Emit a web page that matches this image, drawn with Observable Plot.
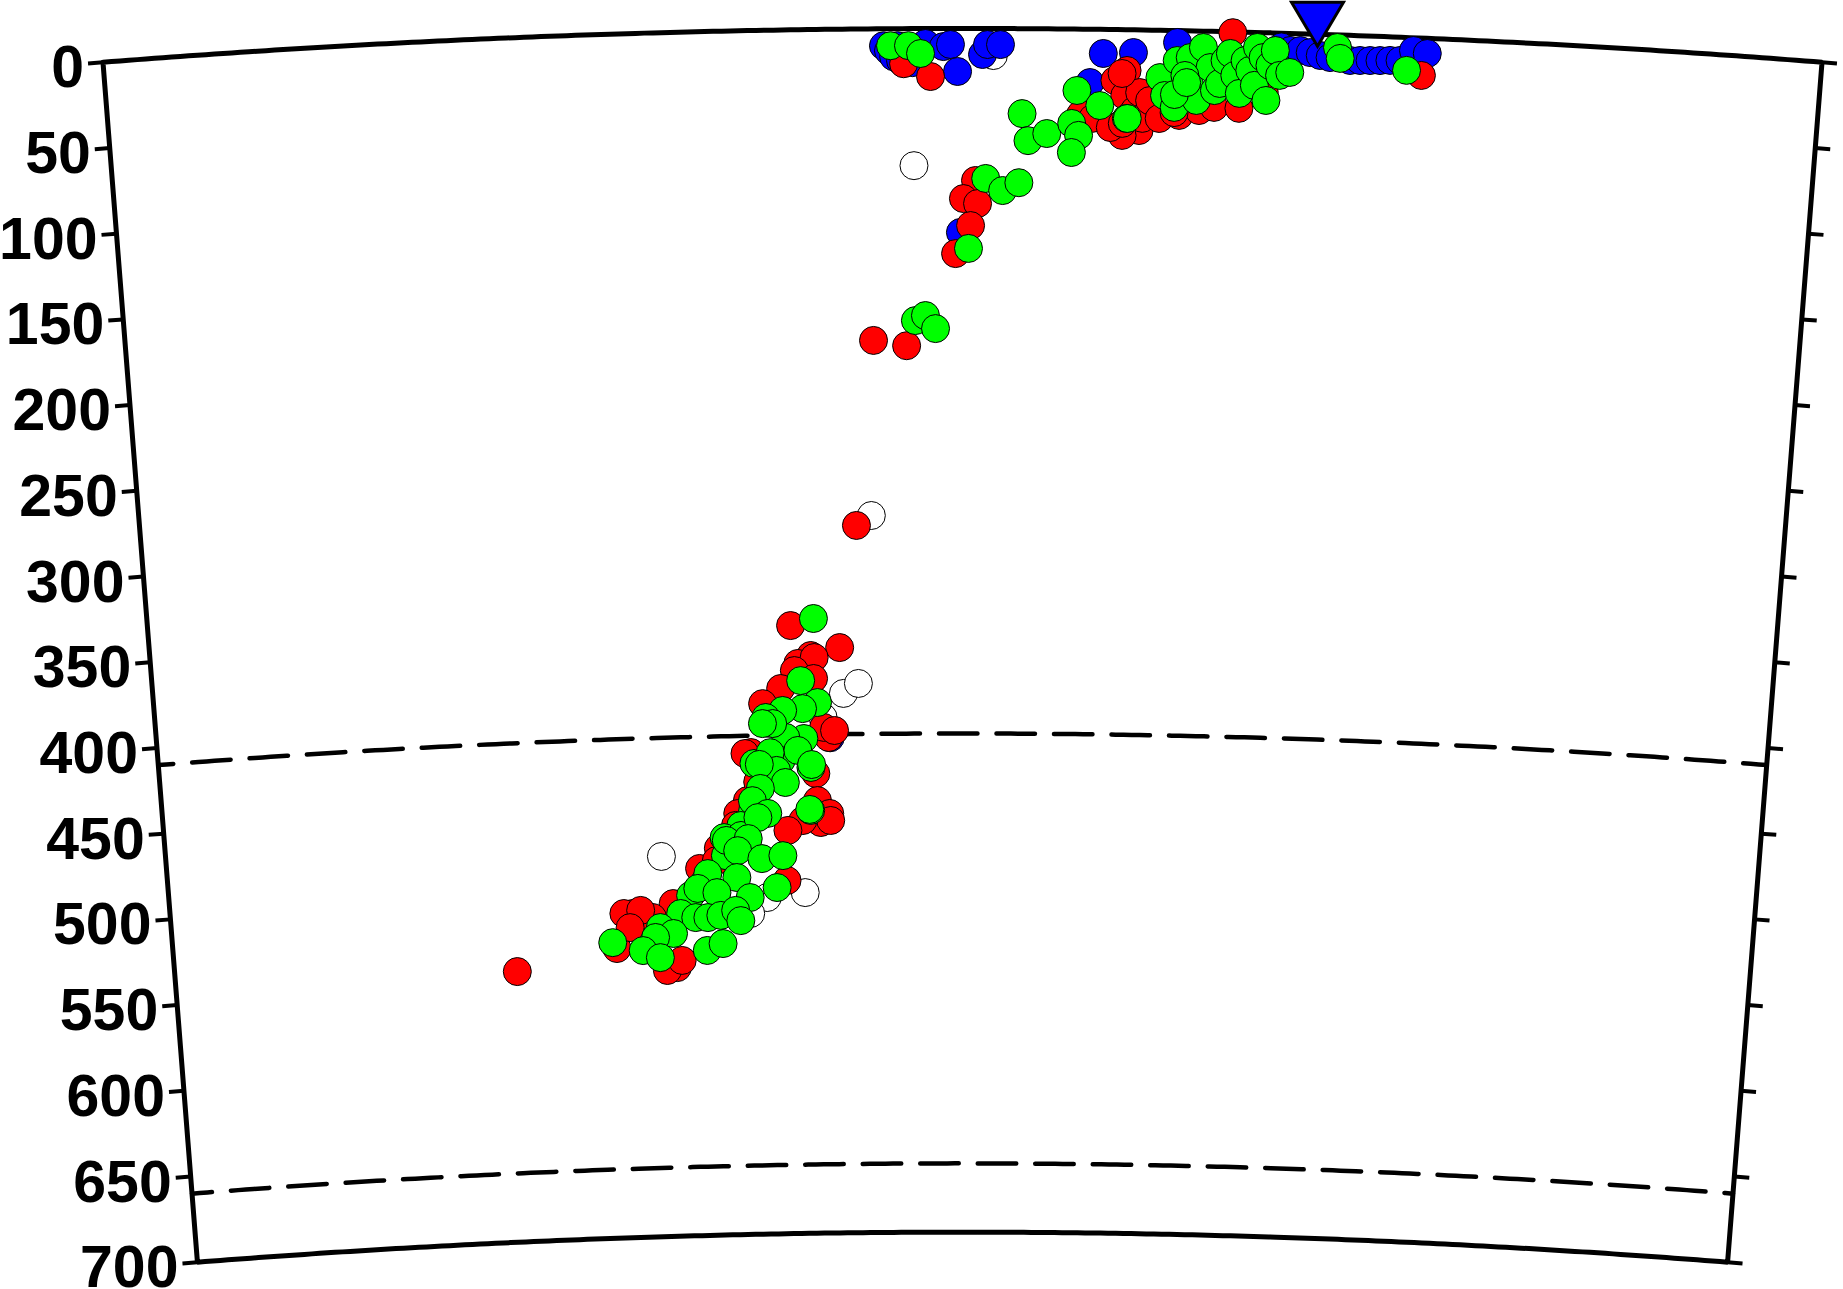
<!DOCTYPE html>
<html><head><meta charset="utf-8">
<script src="https://cdn.jsdelivr.net/npm/d3@7"></script>
<script src="https://cdn.jsdelivr.net/npm/@observablehq/plot@0.6"></script>
<style>html,body{margin:0;padding:0;background:#fff;} #chart svg{display:block;}</style>
</head><body>
<div id="chart"></div>
<script>
// ---- data: [distance along profile (deg), depth (km)] ----
const depthTicks = d3.range(0, 701, 50);
const discontinuities = [410, 660];
const station = [[6.357, 0]];

const blueEvents = [
[4.086,9.9],[4.112,12.8],[4.139,16.3],[4.175,18.6],[4.16,9.9],[4.306,8.7],[4.238,19.8],[4.40,10.5],
[4.437,9.3],[4.474,25.0],[4.605,15.1],[4.631,9.3],[4.699,9.3],[5.238,14.0],[5.396,13.2],[5.170,31.0],
[5.626,6.9],[6.17,8.0],[6.218,9.9],[6.270,9.8],[6.322,10.8],[6.375,12.3],[6.427,13.3],[6.532,14.6],
[6.584,14.4],[6.637,14.2],[6.689,14.0],[6.741,13.7],[6.794,13.5],[6.862,7.4],[6.935,8.8],[4.489,118.6],
[3.76,412]
];
const whiteEvents = [
[4.662,15.7],[4.243,79.7],[4.001,283.0],[3.837,386.3],[3.921,380.6],[3.722,400.1],
[2.797,478.9],[3.607,501.8],[3.391,504.3],[3.295,513.4]
];
const redEvents = [
[4.191,20.4],[4.332,27.9],
[5.301,29.6],[5.354,38.3],[5.406,46.9],[5.327,55.7],[5.432,58.5],[5.364,23.7],[5.432,36.4],[5.448,51.4],[5.343,61.5],
[5.485,41.0],[5.537,51.3],[5.642,49.3],[5.746,46.2],[5.825,44.2],[5.956,44.4],[6.087,34.8],[5.914,0.5],
[5.123,49.6],[5.186,51.8],[5.280,57.0],[5.343,54.5],[5.338,25.5],[5.615,47.7],[6.909,21.7],
[4.569,88.4],[4.505,98.9],[4.580,101.8],[4.543,114.6],[4.463,130.9],
[4.021,181.2],[4.199,184.4],[3.919,288.7],
[3.549,346.4],[3.819,359.6],[3.658,364.0],[3.586,368.5],[3.677,365.2],[3.566,372.6],[3.488,382.9],[3.672,377.4],
[3.386,391.5],[3.752,411.8],[3.724,405.9],[3.785,407.8],[3.315,419.8],[3.282,420.3],[3.677,432.7],[3.290,447.7],
[3.234,455.1],[3.684,448.4],[3.701,461.2],[3.600,459.9],[3.752,456.0],[3.757,460.1],[3.515,465.5],
[3.35,437.0],[3.22,462.0],[3.12,475.0],
[3.011,486.5],[3.107,482.2],[3.505,494.6],[2.856,506.5],[2.622,511.6],[2.736,514.2],[2.574,511.4],[2.670,509.9],
[2.869,543.8],[2.812,545.3],[2.898,539.7],[2.528,531.6],[2.607,519.7],[1.954,542.7]
];
const greenEvents = [
[4.123,9.9],[4.217,9.9],[4.280,14.5],
[5.102,35.7],[5.223,44.3],[4.814,49.4],[4.846,65.1],[4.945,60.9],[5.076,54.9],[5.113,61.8],[5.076,71.8],[5.364,51.6],[5.369,51.6],
[5.537,27.5],[5.563,37.9],[5.626,17.4],[5.615,44.7],[5.694,15.5],[5.694,31.7],[5.731,40.4],[5.762,9.5],
[5.799,21.1],[5.825,34.4],[5.851,30.2],[5.877,16.8],[5.904,12.6],[5.930,25.3],[5.956,35.7],[5.982,16.5],
[6.008,22.2],[6.034,30.8],[6.045,8.7],[6.076,14.5],[6.113,19.0],[6.139,10.2],[6.165,24.6],[6.097,39.4],
[6.218,22.7],[5.668,26.0],[5.615,37.2],[5.678,30.1],
[6.464,7.3],[6.480,13.6],[6.830,19.1],
[4.623,87.2],[4.713,94.2],[4.799,89.6],[4.532,127.9],
[4.247,169.8],[4.301,166.9],[4.355,174.5],
[3.676,342.5],[3.600,378.5],[3.692,391.4],[3.608,394.8],[3.497,395.7],[3.402,399.6],[3.613,412.2],[3.512,411.4],
[3.440,403.2],[3.331,426.2],[3.410,422.9],[3.483,424.8],[3.578,419.1],[3.650,429.1],[3.423,420.1],[3.457,430.5],
[3.383,403.1],[3.361,426.8],[3.317,454.1],[3.250,462.1],[3.159,479.4],[3.043,493.6],[2.956,502.1],
[3.654,427.4],[3.505,437.6],[3.364,440.8],[3.318,447.8],[3.403,455.4],[3.645,454.1],[3.640,453.5],
[3.154,468.9],[3.250,467.9],[3.347,457.7],[3.166,470.6],[3.290,469.8],[3.229,476.7],[3.365,481.6],[3.484,480.1],
[3.057,489.6],[3.221,492.3],[3.294,504.1],[3.448,498.6],[2.998,498.1],[3.106,500.8],[2.897,512.4],[2.982,515.0],
[3.051,515.2],[3.125,514.1],[3.210,511.4],[3.238,517.4],[2.779,520.2],[2.853,523.9],[2.750,525.9],[2.677,533.3],
[2.774,537.7],[3.043,534.3],[3.134,530.5],[2.505,528.1]
];

// ---- geometry of the polar (Earth) cross-section ----
const R = 6371, SPAN = 9, MAXDEPTH = 700;
const W = 1843, H = 1289;
const PX_PER_KM = 1.7195, CENTER_PX = 962, SURFACE_PX = 28;
const TICK_PX = 15;

const rad = Math.PI / 180;
const px = (deg, depth) => (R - depth) * Math.sin((deg - SPAN / 2) * rad);
const py = (deg, depth) => (R - depth) * Math.cos((deg - SPAN / 2) * rad);
const tickDeg = (depth) => (TICK_PX / PX_PER_KM) / (R - depth) / rad;

const arc = (depth, a0, a1, n = 200) => d3.range(n + 1).map(i => [a0 + (a1 - a0) * i / n, depth]);
const edge = (deg, d0, d1, n = 50) => d3.range(n + 1).map(i => [deg, d0 + (d1 - d0) * i / n]);
const frame = [...arc(0, 0, SPAN), ...edge(SPAN, 0, MAXDEPTH), ...arc(MAXDEPTH, SPAN, 0), ...edge(0, MAXDEPTH, 0)];

const X = d => px(d[0], d[1]);
const Y = d => py(d[0], d[1]);

const invTriangle = {
  draw(ctx) { ctx.moveTo(0, 30); ctx.lineTo(-26, -14); ctx.lineTo(26, -14); ctx.closePath(); }
};

const dots = (data, fill) => Plot.dot(data, {x: X, y: Y, r: 14, fill, stroke: "black", strokeWidth: 1});

const chart = Plot.plot({
  width: W, height: H, margin: 0,
  x: {domain: [-CENTER_PX / PX_PER_KM, (W - CENTER_PX) / PX_PER_KM], axis: null},
  y: {domain: [R - (H - SURFACE_PX) / PX_PER_KM, R + SURFACE_PX / PX_PER_KM], axis: null},
  style: {background: "white"},
  marks: [
    ...discontinuities.map(dd => Plot.line(arc(dd, 0, SPAN), {
      x: X, y: Y, stroke: "black", strokeWidth: 4.5,
      strokeDasharray: "38.5,19", strokeDashoffset: dd === 410 ? 23.5 : 18.5
    })),
    Plot.line(frame, {x: X, y: Y, stroke: "black", strokeWidth: 5, strokeLinejoin: "miter"}),
    Plot.link(depthTicks, {x1: d => px(0, d), y1: d => py(0, d), x2: d => px(-tickDeg(d), d), y2: d => py(-tickDeg(d), d), stroke: "black", strokeWidth: 4}),
    Plot.link(depthTicks, {x1: d => px(SPAN, d), y1: d => py(SPAN, d), x2: d => px(SPAN + tickDeg(d), d), y2: d => py(SPAN + tickDeg(d), d), stroke: "black", strokeWidth: 4}),
    Plot.text(depthTicks, {
      x: d => px(-tickDeg(d), d), y: d => py(-tickDeg(d), d), text: d => String(d),
      textAnchor: "end", dx: -4, dy: 5, fontSize: 59, fontWeight: "bold",
      fontFamily: "Liberation Sans, Arial, Helvetica, sans-serif", fill: "black"
    }),
    dots(whiteEvents, "#ffffff"),
    dots(blueEvents, "#0000ff"),
    dots(redEvents, "#ff0000"),
    dots(greenEvents, "#00ff00"),
    Plot.dot(station, {x: X, y: Y, symbol: invTriangle, r: 20, dy: -18, fill: "#0000ff", stroke: "black", strokeWidth: 3, strokeLinejoin: "miter"})
  ]
});
document.getElementById("chart").appendChild(chart);
</script>
</body></html>
